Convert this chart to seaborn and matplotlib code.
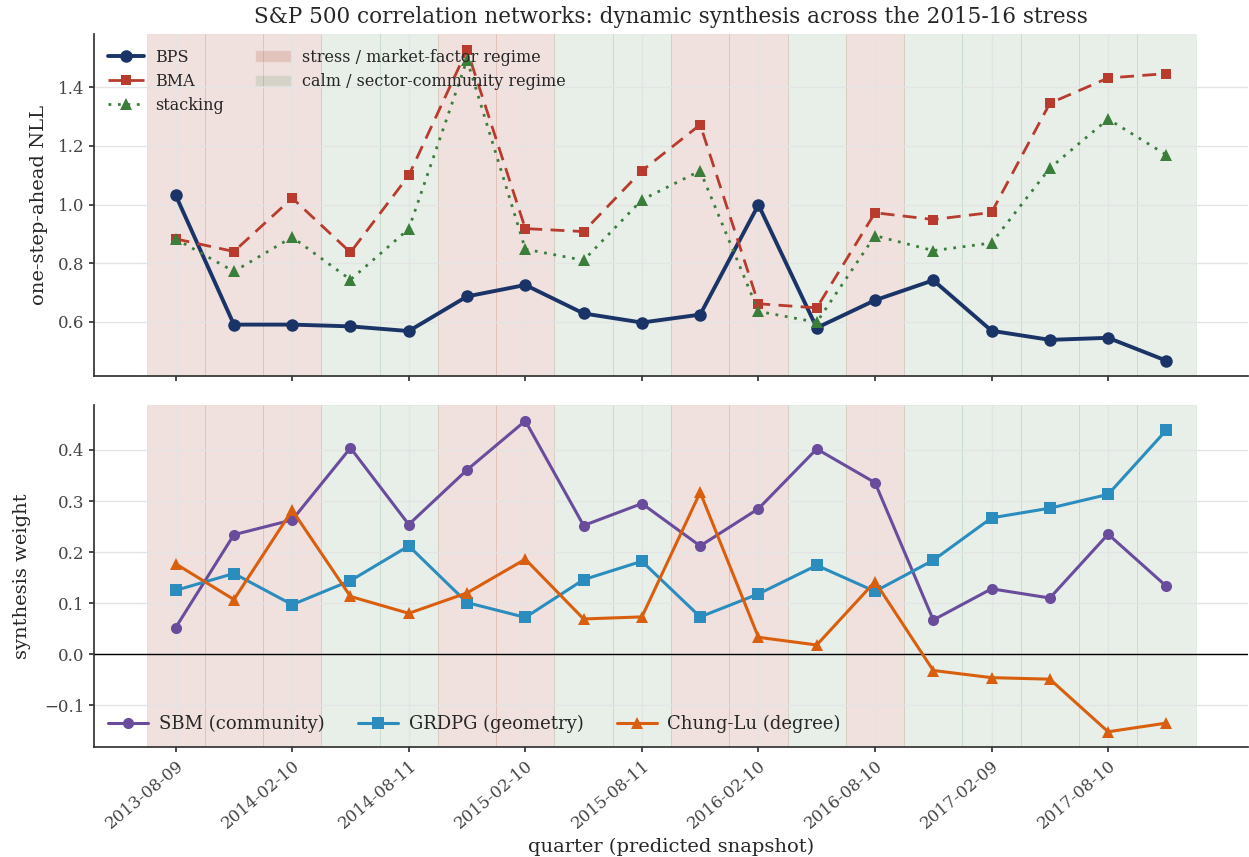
import numpy as np
import pandas as pd
import matplotlib
matplotlib.use("Agg")
import matplotlib.pyplot as plt
from matplotlib.patches import Patch
import seaborn as sns

# Quarterly snapshots (index of the predicted quarter)
tick_labels = ["2013-08-09", "2014-02-10", "2014-08-11", "2015-02-10", "2015-08-11",
               "2016-02-10", "2016-08-10", "2017-02-09", "2017-08-10"]
regime = ["stress", "stress", "stress", "calm", "calm", "stress", "stress", "calm", "calm",
          "stress", "stress", "calm", "stress", "calm", "calm", "calm", "calm", "calm"]

# One-step-ahead negative log-likelihood
nll_bps = [1.032, 0.591, 0.591, 0.585, 0.569, 0.687, 0.726, 0.629, 0.598,
           0.625, 0.999, 0.580, 0.674, 0.742, 0.570, 0.539, 0.546, 0.468]
nll_bma = [0.883, 0.840, 1.022, 0.837, 1.099, 1.527, 0.918, 0.908, 1.115,
           1.272, 0.662, 0.648, 0.972, 0.949, 0.973, 1.345, 1.431, 1.446]
nll_stack = [0.883, 0.772, 0.889, 0.744, 0.917, 1.493, 0.848, 0.810, 1.016,
             1.115, 0.636, 0.599, 0.894, 0.843, 0.869, 1.124, 1.291, 1.169]

# Synthesis weights of the three network models
w_sbm = [0.052, 0.234, 0.263, 0.404, 0.254, 0.361, 0.457, 0.252, 0.295,
         0.212, 0.285, 0.402, 0.336, 0.067, 0.128, 0.110, 0.235, 0.133]
w_grdpg = [0.125, 0.158, 0.097, 0.144, 0.212, 0.101, 0.072, 0.146, 0.182,
           0.073, 0.118, 0.174, 0.123, 0.184, 0.267, 0.286, 0.313, 0.439]
w_cl = [0.177, 0.107, 0.282, 0.113, 0.080, 0.120, 0.186, 0.069, 0.073,
        0.317, 0.033, 0.018, 0.142, -0.032, -0.046, -0.049, -0.152, -0.135]

n = len(regime)
t = np.arange(n)

nll_df = pd.DataFrame({"t": t, "BPS": nll_bps, "BMA": nll_bma, "stacking": nll_stack})
w_df = pd.DataFrame({"t": t, "SBM (community)": w_sbm, "GRDPG (geometry)": w_grdpg,
                     "Chung-Lu (degree)": w_cl})

sns.set_theme(style="ticks", rc={
    "axes.grid": True,
    "grid.color": "#e4e4e4",
    "grid.linewidth": 1.0,
    "axes.edgecolor": "#333333",
    "xtick.color": "#333333",
    "ytick.color": "#333333",
    "xtick.labelcolor": "#444444",
    "ytick.labelcolor": "#444444",
})
plt.rcParams["font.family"] = ["DejaVu Serif"]

fig, (ax1, ax2) = plt.subplots(2, 1, figsize=(12.49, 8.57), dpi=100, sharex=True)
fig.subplots_adjust(left=0.0753, right=0.9992, top=0.960, bottom=0.128, hspace=0.085)

regime_color = {"stress": "#b15e48", "calm": "#3f8248"}
regime_alpha = {"stress": 0.18, "calm": 0.12}

for ax in (ax1, ax2):
    for i, r in enumerate(regime):
        ax.axvspan(i - 0.5, i + 0.5, color=regime_color[r], alpha=regime_alpha[r],
                   lw=0.5, zorder=0)
    ax.set_axisbelow(True)

c_bps, c_bma, c_stk = "#1b3468", "#b83b2e", "#3b7d3b"
sns.lineplot(data=nll_df, x="t", y="BPS", ax=ax1, color=c_bps, lw=2.8, marker="o",
             markersize=9, markeredgewidth=0, label="BPS", zorder=3)
sns.lineplot(data=nll_df, x="t", y="BMA", ax=ax1, color=c_bma, lw=2.0, marker="s",
             markersize=7.5, markeredgewidth=0, label="BMA", zorder=3)
sns.lineplot(data=nll_df, x="t", y="stacking", ax=ax1, color=c_stk, lw=2.0, marker="^",
             markersize=8, markeredgewidth=0, label="stacking", zorder=3)
ax1.lines[-2].set_linestyle((0, (5, 3)))
ax1.lines[-1].set_linestyle((0, (1, 2.4)))

c_sbm, c_grd, c_cl = "#6a4c9c", "#2b8cbe", "#d95f0e"
sns.lineplot(data=w_df, x="t", y="SBM (community)", ax=ax2, color=c_sbm, lw=2.2,
             marker="o", markersize=8, markeredgewidth=0, label="SBM (community)", zorder=3)
sns.lineplot(data=w_df, x="t", y="GRDPG (geometry)", ax=ax2, color=c_grd, lw=2.2,
             marker="s", markersize=8, markeredgewidth=0, label="GRDPG (geometry)", zorder=3)
sns.lineplot(data=w_df, x="t", y="Chung-Lu (degree)", ax=ax2, color=c_cl, lw=2.2,
             marker="^", markersize=8.5, markeredgewidth=0, label="Chung-Lu (degree)", zorder=3)
ax2.axhline(0, color="black", lw=1.0, zorder=2)

handles, labels = ax1.get_legend_handles_labels()
handles += [Patch(facecolor=regime_color["stress"], alpha=regime_alpha["stress"] + 0.04),
            Patch(facecolor=regime_color["calm"], alpha=regime_alpha["calm"] + 0.03)]
labels += ["stress / market-factor regime", "calm / sector-community regime"]
ax1.legend(handles, labels, loc="upper left", ncol=2, frameon=False, fontsize=11.5,
           columnspacing=2.0, handlelength=2.2, handletextpad=0.7, labelspacing=0.45,
           borderaxespad=0.5)
ax2.legend(loc="lower left", ncol=3, frameon=False, fontsize=13, columnspacing=1.85,
           handlelength=2.2, handletextpad=0.6, borderaxespad=0.4)

ax1.set_title("S&P 500 correlation networks: dynamic synthesis across the 2015-16 stress",
              fontsize=15.5, pad=8)
ax1.set_ylabel("one-step-ahead NLL", fontsize=14, labelpad=7)
ax1.set_xlabel("")
ax2.set_ylabel("synthesis weight", fontsize=14, labelpad=9)
ax2.set_xlabel("quarter (predicted snapshot)", fontsize=14)

ax2.set_xticks(t[::2])
ax2.set_xticklabels(tick_labels, rotation=40, ha="right", rotation_mode="anchor")
for ax in (ax1, ax2):
    ax.tick_params(axis="both", labelsize=12, length=3.6)
    sns.despine(ax=ax)

fig.savefig("out.png", dpi=100)
